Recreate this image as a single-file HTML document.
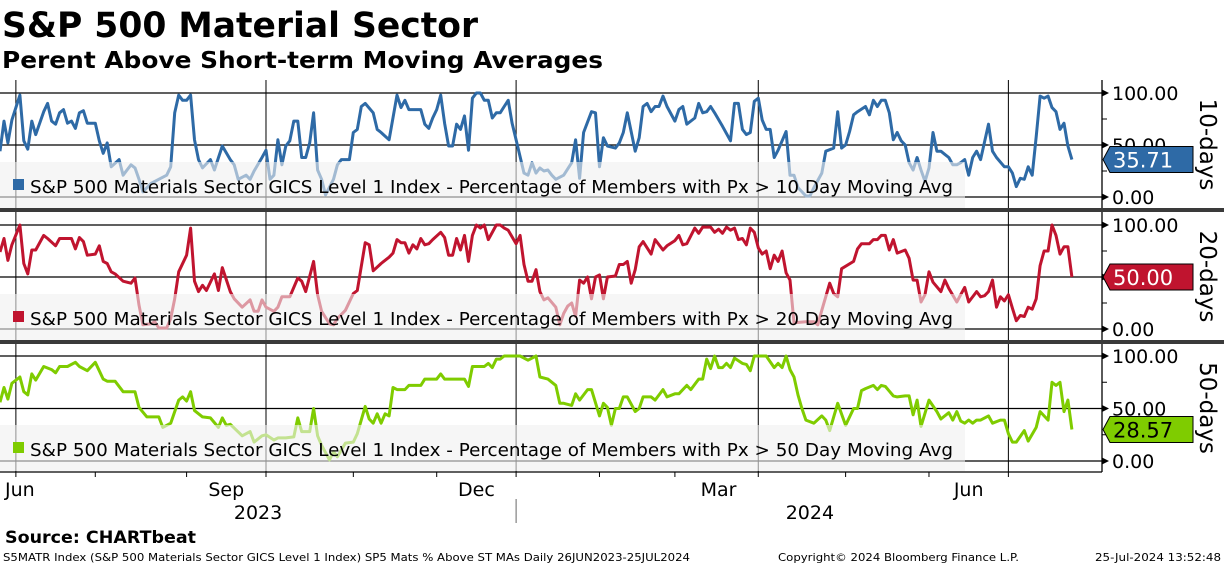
<!DOCTYPE html>
<html><head><meta charset="utf-8"><style>
html,body{margin:0;padding:0;background:#fff;}
svg{display:block;font-family:"DejaVu Sans","Liberation Sans",sans-serif;}
</style></head><body>
<svg id="chart" width="1224" height="566" viewBox="0 0 1224 566" xmlns="http://www.w3.org/2000/svg">
<text x="2" y="37" font-size="35" font-weight="bold" textLength="476" lengthAdjust="spacingAndGlyphs">S&amp;P 500 Material Sector</text>
<text x="2" y="68" font-size="23" font-weight="bold" textLength="601" lengthAdjust="spacingAndGlyphs">Perent Above Short-term Moving Averages</text>
<g id="plots"></g>
<text x="5" y="543" font-size="17" font-weight="bold" textLength="191" lengthAdjust="spacingAndGlyphs">Source: CHARTbeat</text>
<text x="3" y="561" font-size="11" textLength="687" lengthAdjust="spacingAndGlyphs">S5MATR Index (S&amp;P 500 Materials Sector GICS Level 1 Index) SP5 Mats % Above ST MAs  Daily 26JUN2023-25JUL2024</text>
<text x="778" y="561" font-size="11" textLength="241" lengthAdjust="spacingAndGlyphs">Copyright© 2024 Bloomberg Finance L.P.</text>
<text x="1095" y="561" font-size="11" textLength="126" lengthAdjust="spacingAndGlyphs">25-Jul-2024 13:52:48</text>
</svg>
<script>
const d10 = [0,1,2,3,5,6,7,8,9,11,12,13,14,15,16,17,18,19,20,21,22,24,25,26,27,28,30,31,33,34,35,36,38,40,42,43,44,45,46,47,48,49,50,51,53,54,56,58,59,60,62,63,64,66,67,68,69,70,71,72,73,74,75,76,77,78,79,80,81,82,84,85,86,88,89,90,91,92,94,95,96,98,100,101,102,103,106,107,108,109,110,111,112,113,114,115,116,117,118,119,120,121,122,123,124,125,126,127,128,129,130,132,133,134,135,136,137,138,139,140,142,144,145,146,147,149,150,151,152,153,155,156,157,158,160,161,162,163,164,165,166,167,168,170,171,172,173,175,176,177,178,179,180,182,184,185,186,187,188,189,190,191,192,193,194,195,196,198,199,200,201,203,204,205,207,208,210,211,212,213,214,215,216,218,219,220,221,222,223,224,225,226,227,228,229,230,231,232,233,234,235,236,237,238,239,240,241,242,243,244,245,246,247,249,250,251,253,254,255,256,257,258,259,260,261,262,263,264,265,266,267,268,269,270];
const v10 = [44,73,52,74,98,54,46,73,60,82,90,73,70,81,84,71,73,66,81,83,71,71,54,42,52,29,36,21,31,28,17,5,13,17,21,29,81,98,93,93,98,55,36,28,36,26,49,36,31,17,21,17,25,38,45,17,21,55,31,49,54,73,73,38,38,52,81,26,17,2,17,31,36,36,62,65,87,90,81,65,62,55,98,86,93,84,84,70,66,76,84,98,71,49,49,70,65,78,45,95,100,100,93,93,76,81,81,87,93,71,55,23,21,33,23,28,25,26,21,17,21,33,55,18,62,82,81,29,57,49,47,52,62,81,44,57,87,90,82,87,87,97,87,73,84,87,70,76,90,81,82,87,81,68,54,90,90,65,60,62,92,95,74,65,65,38,45,63,21,21,9,1,1,9,23,44,47,82,47,50,63,79,82,87,79,93,87,93,93,81,55,62,54,50,33,26,38,26,15,28,62,44,44,41,38,31,31,33,36,21,38,44,36,70,44,38,29,29,23,10,18,17,29,21,58,97,95,97,86,82,65,71,49,36];
const d20 = [0,1,2,3,5,6,7,8,9,11,12,14,15,18,19,20,21,22,24,25,26,27,28,29,31,33,34,35,36,38,39,40,42,43,44,45,47,48,49,50,51,52,54,55,56,58,59,61,63,64,65,66,67,69,70,71,73,75,76,77,79,80,81,83,84,85,87,89,90,92,93,94,96,98,99,100,101,102,103,104,105,106,107,108,109,111,112,113,114,115,116,117,118,119,120,121,122,123,125,126,127,128,130,131,132,133,134,135,136,137,138,140,141,142,143,144,145,146,147,148,149,150,151,152,153,155,156,157,158,159,160,161,162,164,165,167,168,170,171,172,173,175,176,177,179,180,181,182,183,184,185,186,187,188,189,190,191,192,193,194,195,196,197,198,199,200,203,205,206,207,209,210,211,212,215,216,217,219,220,221,222,223,224,225,226,228,229,230,231,232,233,234,235,237,238,239,241,242,243,244,246,247,248,249,250,251,252,253,254,255,256,257,258,259,260,261,262,263,264,265,266,267,268,269,270];
const v20 = [74,87,66,81,100,63,53,76,76,90,87,80,87,87,77,88,84,71,72,80,65,63,55,53,46,44,49,23,4,5,7,1,1,10,29,55,71,97,46,36,42,37,53,37,59,36,29,21,28,17,17,28,21,17,21,31,31,49,46,36,65,33,17,5,4,10,18,34,37,83,81,56,63,69,73,86,83,83,73,81,77,87,81,82,86,93,88,71,71,87,76,90,65,90,100,97,100,86,100,100,97,95,82,90,62,46,46,57,36,28,30,21,4,15,22,25,12,47,44,50,29,50,52,29,50,51,62,62,65,44,57,79,84,72,86,76,80,85,90,81,82,97,92,98,98,93,96,92,98,95,97,86,87,81,97,93,78,72,75,58,71,65,75,54,47,6,7,7,4,18,44,34,31,58,65,77,82,82,86,86,90,90,76,86,73,76,68,47,47,26,33,55,45,36,47,39,26,33,40,26,36,31,32,36,47,21,31,27,33,20,8,13,12,21,19,29,61,75,75,100,90,72,79,79,50];
const d50 = [0,1,2,3,5,6,7,8,9,11,13,14,15,17,19,20,22,24,26,27,29,31,34,35,37,40,41,43,45,46,47,48,49,51,53,55,56,57,58,61,63,64,66,67,69,70,72,74,75,76,78,79,80,81,83,84,85,87,89,90,92,93,94,95,96,97,98,99,100,102,103,106,107,110,111,112,117,118,119,122,123,124,125,126,127,131,133,135,136,138,140,141,142,144,145,146,148,149,151,152,153,154,155,156,157,158,160,161,162,164,165,167,168,170,171,173,174,176,177,178,179,180,181,182,183,184,185,187,188,189,190,193,195,196,197,198,199,200,201,202,203,205,207,208,209,211,213,215,216,217,218,220,221,222,223,225,226,228,229,230,231,232,234,236,237,239,240,241,242,243,244,245,246,247,249,250,252,253,254,255,256,258,259,261,262,264,265,266,267,268,269,270];
const v50 = [56,70,59,74,80,66,63,83,77,90,87,84,90,90,94,90,86,94,78,76,76,66,66,51,42,42,32,36,58,61,57,66,48,42,41,32,41,34,35,24,28,18,24,25,20,22,22,23,41,28,28,50,24,15,1,9,4,17,18,26,52,40,36,45,36,45,43,70,68,68,72,72,78,78,83,78,78,71,90,90,93,89,97,97,100,100,96,100,80,78,72,55,55,53,64,58,68,68,43,55,51,34,50,50,61,61,47,50,61,61,58,68,61,64,64,72,68,78,78,97,88,100,89,89,93,89,98,93,92,86,100,100,89,93,89,100,87,80,63,50,39,36,43,39,29,55,34,50,50,67,69,72,68,72,71,62,61,62,62,44,58,33,58,47,40,46,39,47,38,36,39,36,39,39,43,36,39,39,26,18,18,29,19,32,47,39,75,72,75,47,58,30];
const yTicks = [100, 50, 0];
const yTickLabels = ["100.00", "50.00", "0.00"];
const monthTickDays = [4,24,47,67,89,110,130,151,170,191,213,234,254];
const quarterGridDays = [4,67,130,191,254];
const monthLabels = ["Jun","Sep","Dec","Mar","Jun"];
const monthLabelDays = [5,57,120,181,244];
const yearLabels = ["2023","2024"];
const yearLabelDays = [65,204];
const yearSepDays = [130];
const lastValueLabels = ["35.71","50.00","28.57"];

const NS="http://www.w3.org/2000/svg";
const g=document.getElementById('plots');
function mk(tag,attrs,parent){const e=document.createElementNS(NS,tag);for(const k in attrs)e.setAttribute(k,attrs[k]);(parent||g).appendChild(e);return e;}
const PX_PER_DAY=3.97;
function xDay(d){return d*PX_PER_DAY;}
const AXIS_X=1102;
const panels=[
 {top:80,bottom:209,y100:93,y0:197,days:d10,vals:v10,color:"#2e6aa6",txt:"#fff",name:"10-days",leg:"S&P 500 Materials Sector GICS Level 1 Index - Percentage of Members with Px > 10 Day Moving Avg",legTop:162,key:"10day"},
 {top:212,bottom:341,y100:225,y0:329,days:d20,vals:v20,color:"#c0142f",txt:"#fff",name:"20-days",leg:"S&P 500 Materials Sector GICS Level 1 Index - Percentage of Members with Px > 20 Day Moving Avg",legTop:294,key:"20day"},
 {top:344,bottom:472,y100:356,y0:461,days:d50,vals:v50,color:"#7fcc00",txt:"#000",name:"50-days",leg:"S&P 500 Materials Sector GICS Level 1 Index - Percentage of Members with Px > 50 Day Moving Avg",legTop:425,key:"50day"}
];
panels.forEach((p,pi)=>{
 const yv=v=>p.y0-(p.y0-p.y100)*v/100;
 yTicks.forEach(t=>{
  const l=mk('line',{x1:0,x2:AXIS_X,y1:yv(t),y2:yv(t),stroke:"#000","stroke-width":1.3});
  
  
 });
 quarterGridDays.forEach(dd=>{
  const l=mk('line',{x1:xDay(dd),x2:xDay(dd),y1:p.top,y2:p.bottom,stroke:"#000","stroke-width":1});
  
  
 });
 const n=Math.min(p.days.length,p.vals.length);
 const pts=[];
 for(let i=0;i<n;i++)pts.push(xDay(p.days[i]).toFixed(1)+","+yv(p.vals[i]).toFixed(1));
 const line=mk('polyline',{points:pts.join(" "),fill:"none",stroke:p.color,"stroke-width":3,"stroke-linejoin":"round"});
 
 
 const lb=mk('rect',{x:0,y:p.legTop,width:965,height:p.bottom-p.legTop-1,fill:"rgba(240,240,240,0.6)"});
 
 
 const sw=mk('rect',{x:13,y:p.legTop+17,width:11,height:11,fill:p.color});
 
 
 const lt=mk('text',{x:30,y:p.legTop+31,"font-size":18,textLength:923,lengthAdjust:"spacingAndGlyphs",fill:"#000"});
 lt.textContent=p.leg;
 
 
 const ax=mk('line',{x1:AXIS_X,x2:AXIS_X,y1:p.top,y2:p.bottom,stroke:"#000","stroke-width":1.3});
 
 
 [75,25].forEach(t=>{
  const m=mk('line',{x1:AXIS_X,x2:AXIS_X+5,y1:yv(t),y2:yv(t),stroke:"#000","stroke-width":1});
  
  
 });
 yTicks.forEach((t,i)=>{
  const y=yv(t);
  const tr=mk('polygon',{points:`${AXIS_X},${y-3.5} ${AXIS_X+7},${y} ${AXIS_X},${y+3.5}`,fill:"#000"});
  
  
  const tx=mk('text',{x:1112,y:y+7,"font-size":19,fill:"#000"});
  tx.textContent=yTickLabels[i];
  
  
 });
 const last=p.vals[n-1];
 const ly=yv(last);
 const box=mk('polygon',{points:`${AXIS_X+1},${ly} ${AXIS_X+8},${ly-13} 1193,${ly-13} 1193,${ly+13} ${AXIS_X+8},${ly+13}`,fill:p.color,stroke:"#000","stroke-width":1});
 
 
 const bt=mk('text',{x:1113,y:ly+8,"font-size":21,fill:p.txt});
 bt.textContent=lastValueLabels[pi];
 
 
 const cy=(p.top+p.bottom)/2;
 const tt=mk('text',{x:1200,y:cy,"font-size":23,"text-anchor":"middle",transform:`rotate(90 1200 ${cy})`,fill:"#000"});
 tt.textContent=p.name;
 
 
});
[[208,4],[340,4]].forEach(([y,h])=>{
 const s=mk('rect',{x:0,y:y,width:1224,height:h,fill:"#3a3a3a"});
 
 
});
const xa=mk('line',{x1:0,x2:AXIS_X,y1:472,y2:472,stroke:"#000","stroke-width":1.3});


monthTickDays.forEach(dd=>{
 const t=mk('line',{x1:xDay(dd),x2:xDay(dd),y1:472,y2:477,stroke:"#000","stroke-width":1});
 
 
});
monthLabels.forEach((m,i)=>{
 const t=mk('text',{x:xDay(monthLabelDays[i]),y:496,"font-size":19,"text-anchor":"middle",fill:"#000"});
 t.textContent=m;
 
 
});
yearLabels.forEach((m,i)=>{
 const t=mk('text',{x:xDay(yearLabelDays[i]),y:519,"font-size":19,"text-anchor":"middle",fill:"#000"});
 t.textContent=m;
 
 
});
yearSepDays.forEach(dd=>{
 const t=mk('line',{x1:xDay(dd),x2:xDay(dd),y1:499,y2:523,stroke:"#666","stroke-width":1});
 
 
});
</script>
</body></html>
